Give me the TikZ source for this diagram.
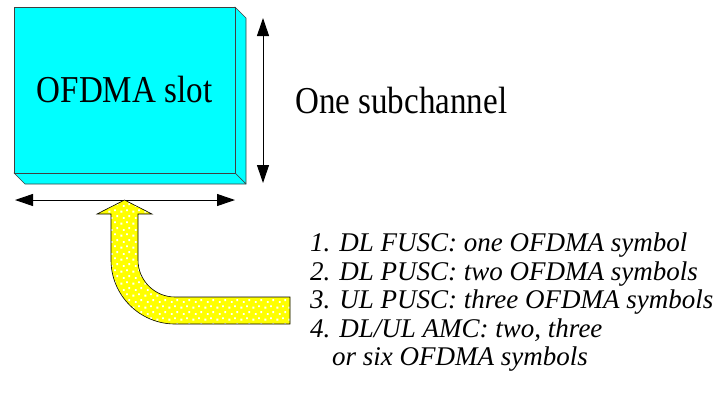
\documentclass[tikz,border=0pt]{standalone}
\usepackage{fontspec}
\setmainfont{Liberation Serif}
\newfontfamily\narrowserif[FakeStretch=0.87]{Liberation Serif}
\usetikzlibrary{arrows.meta,patterns.meta}

\definecolor{slabcyan}{RGB}{0,255,255}
\definecolor{arrowyellow}{RGB}{255,255,0}

% sparse white speckles for the yellow arrow
\tikzdeclarepattern{
  name=speckles,
  type=uncolored,
  bounding box={(0pt,0pt) and (12pt,12pt)},
  tile size={(12pt,12pt)},
  code={
    \fill (0.5pt,0.5pt) rectangle (2.5pt,2.5pt);
    \fill (6.5pt,2pt) rectangle (8.5pt,4pt);
    \fill (3pt,6.5pt) rectangle (5pt,8.5pt);
    \fill (9pt,8.5pt) rectangle (11pt,10.5pt);
  }
}

\tikzset{
  face/.style={fill=slabcyan, draw=black!75, line width=0.6pt, line join=round},
  dim/.style={draw=black, line width=1pt, {Triangle[length=18pt,width=12pt]}-{Triangle[length=18pt,width=12pt]}},
  biglabel/.style={font=\narrowserif\fontsize{38}{44}\selectfont, inner sep=0pt},
  item/.style={font=\itshape\fontsize{27}{30}\selectfont, inner sep=0pt, anchor=base west},
  bentarrow/.style={draw=black, line width=0.6pt, line join=miter}
}

\begin{document}
\begin{tikzpicture}[x=1pt,y=-1pt]
\useasboundingbox (0,0) rectangle (717,392);

% the slot drawn as a thin slab: front, right side and bottom faces
\path[face] (235,7) -- (246,18) -- (246,184) -- (235,173) -- cycle;
\path[face] (14,173) -- (25,184) -- (246,184) -- (235,173) -- cycle;
\node[face, minimum width=221pt, minimum height=166pt, anchor=north west, inner sep=0pt] (slot) at (14,7) {};
\node[biglabel, anchor=base] (slotlabel) at (124.5,102) {OFDMA slot};

% extent arrows
\coordinate (vtop) at (263,18);
\coordinate (vbot) at (263,183);
\draw[dim] (vtop) -- (vbot);
\coordinate (hleft) at (15,200);
\coordinate (hright) at (235,200);
\draw[dim] (hleft) -- (hright);

\node[biglabel, anchor=base west] (subch) at (295,113) {One subchannel};

% bent block arrow pointing up at the slot width
\def\bentpath{(124.5,200) -- (152,214) -- (138,214) -- (138,260)
  .. controls (138,280.4) and (154.6,297) .. (175,297) -- (290,297)
  -- (290,324) -- (175,324)
  .. controls (139.7,324) and (111,295.3) .. (111,260)
  -- (111,214) -- (97,214) -- cycle}
\fill[arrowyellow] \bentpath;
\fill[pattern=speckles, pattern color=white] \bentpath;
\draw[bentarrow] \bentpath;

% slot lengths per permutation
\node[item] (l1) at (310,251) {1. DL FUSC: one OFDMA symbol};
\node[item] (l2) at (310,280) {2. DL PUSC: two OFDMA symbols};
\node[item] (l3) at (310,308) {3. UL PUSC: three OFDMA symbols};
\node[item] (l4) at (310,337) {4. DL/UL AMC: two, three};
\node[item] (l5) at (332,365) {or six OFDMA symbols};
\end{tikzpicture}
\end{document}
